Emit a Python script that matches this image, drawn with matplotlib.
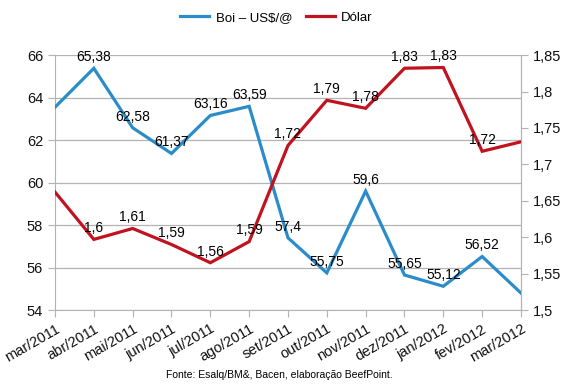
import matplotlib.pyplot as plt

plt.rcParams['font.family'] = ['Liberation Sans', 'DejaVu Sans']

months = ['mar/2011', 'abr/2011', 'mai/2011', 'jun/2011', 'jul/2011', 'ago/2011',
          'set/2011', 'out/2011', 'nov/2011', 'dez/2011', 'jan/2012', 'fev/2012',
          'mar/2012']
boi = [63.55, 65.38, 62.58, 61.37, 63.16, 63.59, 57.4, 55.75, 59.6, 55.65,
       55.12, 56.52, 54.8]
dolar = [1.662, 1.597, 1.612, 1.59, 1.565, 1.594, 1.726, 1.788, 1.777, 1.832,
         1.833, 1.718, 1.731]
boi_labels = [None, '65,38', '62,58', '61,37', '63,16', '63,59', '57,4', '55,75',
              '59,6', '55,65', '55,12', '56,52', None]
dolar_labels = [None, '1,6', '1,61', '1,59', '1,56', '1,59', '1,72', '1,79',
                '1,78', '1,83', '1,83', '1,72', None]

blue = '#2a8cc8'
red = '#c1121f'
grey = '#b3b3b3'

fig = plt.figure(figsize=(5.7, 3.91), dpi=100)
ax1 = fig.add_axes([0.0965, 0.207, 0.8175, 0.652])
ax2 = ax1.twinx()

x = list(range(len(months)))
l1, = ax1.plot(x, boi, color=blue, lw=2.3, solid_joinstyle='miter', zorder=3)
l2, = ax2.plot(x, dolar, color=red, lw=2.3, solid_joinstyle='miter', zorder=3)

for xi, yi, t in zip(x, boi, boi_labels):
    if t:
        ax1.annotate(t, (xi, yi), xytext=(0, 3), textcoords='offset points',
                     ha='center', va='bottom', fontsize=10, zorder=5)
for xi, yi, t in zip(x, dolar, dolar_labels):
    if t:
        ax2.annotate(t, (xi, yi), xytext=(0, 3), textcoords='offset points',
                     ha='center', va='bottom', fontsize=10, zorder=5)

ax1.set_xlim(0, 12)
ax1.set_ylim(54, 66)
ax1.set_yticks([54, 56, 58, 60, 62, 64, 66])
ax2.set_ylim(1.5, 1.85)
ax2.set_yticks([1.5, 1.55, 1.6, 1.65, 1.7, 1.75, 1.8, 1.85])
ax2.set_yticklabels(['1,5', '1,55', '1,6', '1,65', '1,7', '1,75', '1,8', '1,85'])

ax1.set_xticks(x)
ax1.set_xticklabels(months, rotation=30, ha='right', rotation_mode='anchor')
ax1.yaxis.grid(True, color=grey, lw=0.9)
ax1.set_axisbelow(True)

for ax in (ax1, ax2):
    ax.spines['top'].set_visible(False)
    for s in ('left', 'right', 'bottom'):
        ax.spines[s].set_color(grey)
    ax.tick_params(colors=grey, labelcolor='#111111', labelsize=10.5, length=5)
    ax.patch.set_visible(False)

ax2.spines['left'].set_visible(False)
ax2.spines['bottom'].set_visible(False)

fig.legend([l1, l2], ['Boi – US$/@', 'Dólar'], loc='upper center',
           bbox_to_anchor=(0.485, 1.0), ncol=2, frameon=False, fontsize=9.5,
           handlelength=2.2, handletextpad=0.5, columnspacing=1.0)

fig.text(0.49, 0.04, 'Fonte: Esalq/BM&, Bacen, elaboração BeefPoint.',
         ha='center', va='center', fontsize=7.5)

fig.savefig('out.png', dpi=100)
